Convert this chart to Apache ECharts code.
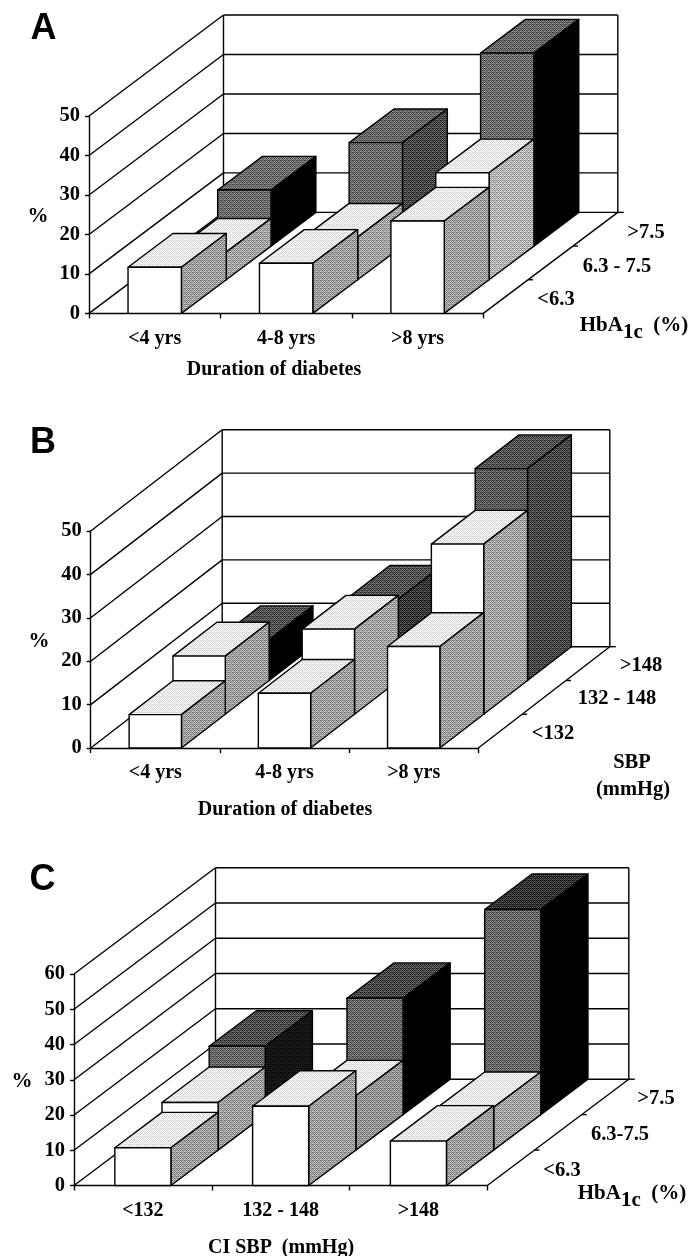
<!DOCTYPE html>
<html>
<head>
<meta charset="utf-8">
<style>html,body{margin:0;padding:0;background:#fff}#c{width:692px;height:1256px}</style>
<script src="https://cdn.jsdelivr.net/npm/echarts@6/dist/echarts.min.js"></script>
</head>
<body>
<div id="c"></div>
<script>
// ---- data (rows run front, middle, back) ----
const durationCats = ['<4 yrs', '4-8 yrs', '>8 yrs'];
const sbpCats = ['<132', '132 - 148', '>148'];
const ticksAB = [0, 10, 20, 30, 40, 50];
const ticksC = [0, 10, 20, 30, 40, 50, 60];

const aFront = [11.7, 12.7, 23.4];
const aMiddle = [7.0, 10.8, 27.1];
const aBack = [14.2, 26.2, 48.9];

const bFront = [7.7, 12.6, 23.4];
const bMiddle = [13.4, 19.6, 39.2];
const bBack = [9.4, 18.7, 48.8];

const cFront = [10.7, 22.5, 12.6];
const cMiddle = [13.5, 15.4, 12.1];
const cBack = [19.4, 33.0, 58.2];

const aDepthLabels = ['<6.3', '6.3 - 7.5', '>7.5'];
const bDepthLabels = ['<132', '132 - 148', '>148'];
const cDepthLabels = ['<6.3', '6.3-7.5', '>7.5'];

// ---- fine halftone fills: mean ink level with a small ordered texture ----
const BAYER = [[0, 8, 2, 10], [12, 4, 14, 6], [3, 11, 1, 9], [15, 7, 13, 5]];
const patternCache = {};
function stipple(level) {
  if (level >= 1) return '#000';
  if (level <= 0) return '#fff';
  if (patternCache[level]) return patternCache[level];
  const cv = document.createElement('canvas');
  cv.width = 4; cv.height = 4;
  const g = cv.getContext('2d');
  const mean = 255 * (1 - level);
  const spread = Math.min(110, 2 * Math.min(mean, 255 - mean));
  for (let y = 0; y < 4; y++) for (let x = 0; x < 4; x++) {
    const v = Math.round(mean + (BAYER[y][x] / 15 - 0.5) * spread);
    g.fillStyle = 'rgb(' + v + ',' + v + ',' + v + ')';
    g.fillRect(x, y, 1, 1);
  }
  return (patternCache[level] = { image: cv, repeat: 'repeat' });
}

const LINE = 1.4;
const SERIF = '"Liberation Serif","Times New Roman",serif';
const panels = [
  { cats: durationCats, rows: [aFront, aMiddle, aBack], ticks: ticksAB, max: 50,
    left: 89, top: 116, width: 394.3, height: 197.4, dx: 134.5, dy: -101, barFrac: 0.406,
    tops: [[0.09, 0.09, 0.09], [0.09, 0.09, 0.09], [0.58, 0.6, 0.6]],
    fronts: [[0, 0, 0], [0, 0, 0], [0.58, 0.58, 0.58]],
    sides: [[0.38, 0.38, 0.38], [0.36, 0.36, 0.3], [1, 0.72, 1]] },
  { cats: durationCats, rows: [bFront, bMiddle, bBack], ticks: ticksAB, max: 50,
    left: 90.7, top: 531, width: 387.6, height: 217, dx: 131.5, dy: -101.3, barFrac: 0.405,
    tops: [[0.09, 0.09, 0.09], [0.09, 0.09, 0.09], [0.68, 0.68, 0.68]],
    fronts: [[0, 0, 0], [0, 0, 0], [0.62, 0.62, 0.65]],
    sides: [[0.38, 0.38, 0.38], [0.38, 0.36, 0.36], [1, 0.78, 0.72]] },
  { cats: sbpCats, rows: [cFront, cMiddle, cBack], ticks: ticksC, max: 60,
    left: 74, top: 974, width: 413.3, height: 211.5, dx: 141.5, dy: -106.3, barFrac: 0.407,
    tops: [[0.09, 0.09, 0.09], [0.09, 0.09, 0.09], [0.7, 0.72, 0.8]],
    fronts: [[0, 0, 0], [0, 0, 0], [0.6, 0.6, 0.6]],
    sides: [[0.38, 0.38, 0.38], [0.38, 0.42, 0.36], [0.92, 1, 1]] }
];

const textStyle = (text, x, y, size, extra) => ({
  type: 'text',
  style: Object.assign({ text, x, y: y + 1.5, textAlign: 'center', textVerticalAlign: 'middle',
    font: 'bold ' + size + 'px ' + SERIF, fill: '#000' }, extra || {})
});
const hba = (x, y) => ({
  type: 'text',
  style: {
    text: '{a|HbA}{b|1c}{a|  (%)}', x, y, textAlign: 'center', textVerticalAlign: 'middle', fill: '#000',
    rich: {
      a: { font: 'bold 21px ' + SERIF, lineHeight: 28, verticalAlign: 'top', fill: '#000' },
      b: { font: 'bold 21px ' + SERIF, lineHeight: 28, verticalAlign: 'bottom', fill: '#000' }
    }
  }
});
const letter = (t, x, y) => textStyle(t, x, y, 36, { font: 'bold 36px "Liberation Sans",Arial,sans-serif' });

const graphics = [
  letter('A', 43.5, 28), letter('B', 43, 442), letter('C', 42.5, 879),
  textStyle('%', 38, 215, 21), textStyle('%', 39, 640, 21), textStyle('%', 22, 1080, 21),
  textStyle('Duration of diabetes', 274, 368, 20),
  textStyle('Duration of diabetes', 285, 808, 20),
  textStyle('CI SBP  (mmHg)', 281, 1246, 20),
  textStyle(aDepthLabels[2], 646, 231, 20.5), textStyle(aDepthLabels[1], 617, 265, 20.5), textStyle(aDepthLabels[0], 556, 298, 20.5),
  textStyle(bDepthLabels[2], 641, 664, 20.5), textStyle(bDepthLabels[1], 617, 697, 20.5), textStyle(bDepthLabels[0], 553, 732, 20.5),
  textStyle(cDepthLabels[2], 656, 1097, 20.5), textStyle(cDepthLabels[1], 620, 1133, 20.5), textStyle(cDepthLabels[0], 562, 1169, 20.5),
  textStyle('SBP', 632, 761, 20.5), textStyle('(mmHg)', 633, 788, 20.5),
  hba(634, 329), hba(632, 1197)
];

const grid = [], xAxis = [], yAxis = [], series = [];
panels.forEach((p, idx) => {
  grid.push({ left: p.left, top: p.top, width: p.width, height: p.height });
  xAxis.push({
    type: 'category', gridIndex: idx, data: p.cats, boundaryGap: true,
    axisLine: { lineStyle: { color: '#000', width: LINE } },
    axisTick: { show: true, length: 5, lineStyle: { color: '#000', width: LINE } },
    axisLabel: { color: '#000', fontFamily: SERIF, fontWeight: 'bold', fontSize: 20, margin: 15 },
    splitLine: { show: false }
  });
  yAxis.push({
    type: 'value', gridIndex: idx, min: 0, max: p.max, interval: 10,
    axisLine: { show: true, lineStyle: { color: '#000', width: LINE } },
    axisTick: { show: true, length: 4, lineStyle: { color: '#000', width: LINE } },
    axisLabel: { color: '#000', fontFamily: SERIF, fontWeight: 'bold', fontSize: 20.5, margin: 9, padding: [3, 0, 0, 0] },
    splitLine: { show: false }
  });

  // side wall, back wall and floor, tied to the value axis
  series.push({
    type: 'custom', xAxisIndex: idx, yAxisIndex: idx, silent: true, clip: false, z: 1,
    encode: { x: 0, y: 1 },
    data: p.ticks.map(v => [0, v]),
    renderItem(params, api) {
      const v = api.value(1);
      const cs = params.coordSys;
      const y = api.coord([0, v])[1];
      const xl = cs.x, xr = cs.x + cs.width;
      const ln = (x1, y1, x2, y2) => ({ type: 'line', shape: { x1, y1, x2, y2 },
        style: { stroke: '#000', lineWidth: LINE } });
      const kids = [
        ln(xl, y, xl + p.dx, y + p.dy),
        ln(xl + p.dx, y + p.dy, xr + p.dx, y + p.dy)
      ];
      if (v === p.max) {
        const b = cs.y + cs.height + p.dy;
        kids.push(ln(xl + p.dx, y + p.dy, xl + p.dx, b));
        kids.push(ln(xr + p.dx, y + p.dy, xr + p.dx, b));
      }
      if (v === 0) {
        kids.push(ln(xr, y, xr + p.dx, y + p.dy));
        kids.push(ln(xr + p.dx, y + p.dy, xr + p.dx + 6, y + p.dy));
        [1, 2].forEach(i => {
          const tx = xr + p.dx * i / 3, ty = y + p.dy * i / 3;
          kids.push(ln(tx, ty, tx + 5, ty));
        });
      }
      return { type: 'group', children: kids };
    }
  });

  // boxes, drawn from the back row forward
  const boxes = [];
  [2, 1, 0].forEach(r => p.rows[r].forEach((val, c) => boxes.push([c, r, val])));
  series.push({
    type: 'custom', xAxisIndex: idx, yAxisIndex: idx, silent: true, clip: false, z: 3,
    encode: { x: 0, y: 2 },
    data: boxes,
    renderItem(params, api) {
      const c = api.value(0), r = api.value(1), val = api.value(2);
      const base = api.coord([c, 0]), head = api.coord([c, val]);
      const w = api.size([1, 0])[0] * p.barFrac;
      const x0 = base[0] - w / 2, x1 = base[0] + w / 2;
      const d0 = r / 3, d1 = (r + 1) / 3;
      const P = (x, y, d) => [x + p.dx * d, y + p.dy * d];
      const poly = (pts, level) => ({ type: 'polygon', shape: { points: pts },
        style: { fill: stipple(level), stroke: '#000', lineWidth: LINE, lineJoin: 'round' } });
      return {
        type: 'group',
        children: [
          poly([P(x0, head[1], d0), P(x1, head[1], d0), P(x1, head[1], d1), P(x0, head[1], d1)], p.tops[r][c]),
          poly([P(x1, base[1], d0), P(x1, base[1], d1), P(x1, head[1], d1), P(x1, head[1], d0)], p.sides[r][c]),
          poly([P(x0, base[1], d0), P(x1, base[1], d0), P(x1, head[1], d0), P(x0, head[1], d0)], p.fronts[r][c])
        ]
      };
    }
  });
});

const chart = echarts.init(document.getElementById('c'), null, { renderer: 'canvas' });
chart.setOption({
  animation: false,
  backgroundColor: '#fff',
  grid, xAxis, yAxis, series,
  graphic: { elements: graphics }
});
</script>
</body>
</html>
